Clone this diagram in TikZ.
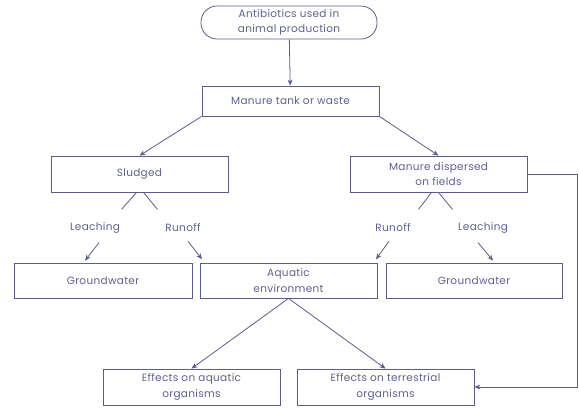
\documentclass[tikz,border=0pt]{standalone}
\usepackage{fontspec}
\setmainfont[LetterSpace=3]{Poppins}
\usetikzlibrary{arrows.meta}
\definecolor{ln}{RGB}{92,92,140}
\definecolor{tx}{RGB}{95,95,145}
\begin{document}
\begin{tikzpicture}[x=1pt,y=-1pt,
  box/.style={draw=ln,line width=0.8pt,minimum width=177pt,inner sep=0pt,align=center,text=tx,font=\fontsize{10.5}{15.5}\selectfont},
  lab/.style={text=tx,font=\fontsize{10.5}{15}\selectfont,inner sep=1pt},
  con/.style={draw=ln,line width=0.8pt},
  arr/.style={con,-{Stealth[length=6pt,width=5pt]}}]
\useasboundingbox (0,0) rectangle (579,408);
\node[box,rounded corners=16pt,minimum width=176pt,minimum height=33pt] (top) at (289,22.5) {Antibiotics used in\\animal production};
\node[box,minimum height=30pt] (manure) at (290.5,101) {Manure tank or waste};
\node[box,minimum height=36pt] (sludged) at (139.5,174) {Sludged};
\node[box,minimum height=36pt] (disp) at (438.5,174) {Manure dispersed\\on fields};
\node[box,minimum width=178pt,minimum height=35pt] (gwl) at (103,280.5) {Groundwater};
\node[box,minimum height=35pt] (aqua) at (288.5,280.5) {Aquatic\\environment};
\node[box,minimum width=176pt,minimum height=35pt] (gwr) at (474,280.5) {Groundwater};
\node[box,minimum height=36pt] (effa) at (191.5,387) {Effects on aquatic\\organisms};
\node[box,minimum height=36pt] (efft) at (385.5,387) {Effects on terrestrial\\organisms};
\node[lab] (leachL) at (95,228) {Leaching};
\node[lab] (runL) at (183,228) {Runoff};
\node[lab] (runR) at (393,228) {Runoff};
\node[lab] (leachR) at (483,228) {Leaching};
\draw[arr] (top) -- (manure);
\draw[arr] (manure.south west) -- (sludged.north);
\draw[arr] (manure.south east) -- (disp.north);
\draw[con] (sludged.south) ++(-3,0) -- ++(-15,17);
\draw[con] (sludged.south) ++(4,0) -- ++(14,17);
\draw[con] (disp.south) ++(-7,0) -- ++(-13,17);
\draw[con] (disp.south) ++(0,0) -- ++(14,17);
\draw[arr] (leachL.south) ++(4,8) -- ++(-14,18);
\draw[arr] (runL.south) ++(5,8) -- ++(14,18);
\draw[arr] (runR.south) ++(-4,8) -- ++(-13,18);
\draw[arr] (leachR.south) ++(-5,8) -- ++(15,18);
\draw[arr] (aqua.south) -- (effa.north);
\draw[arr] (aqua.south) -- (efft.north);
\draw[arr] (disp.east) -- ++(50,0) |- (efft.east);
\end{tikzpicture}
\end{document}
